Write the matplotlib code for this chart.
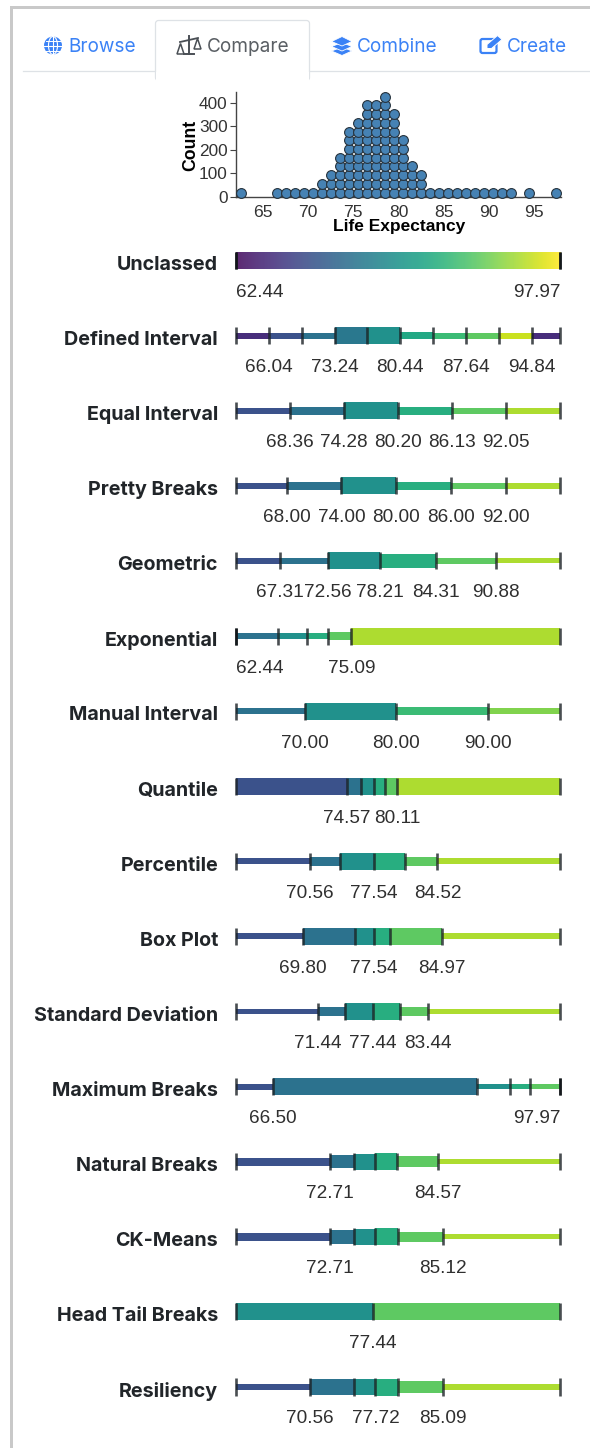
import numpy as np
import matplotlib
matplotlib.use("Agg")
import matplotlib.pyplot as plt
from matplotlib.patches import Circle, FancyBboxPatch, Polygon, Rectangle, Arc
from matplotlib import colormaps

# ---------- data ----------
dot_bins = [62.5, 66.5, 67.5, 68.5, 69.5, 70.5, 71.5, 72.5, 73.5, 74.5, 75.5, 76.5, 77.5, 78.5,
            79.5, 80.5, 81.5, 82.5, 83.5, 84.5, 85.5, 86.5, 87.5, 88.5, 89.5, 90.5, 91.5, 92.5, 94.5, 97.5]
dot_stacks = [1, 1, 1, 1, 1, 1, 2, 3, 5, 8, 9, 11, 11, 12, 10, 7, 4, 3, 1, 1, 1, 1, 1, 1, 1, 1, 1, 1, 1, 1]
count_per_dot = 37
x_ticks = [65, 70, 75, 80, 85, 90, 95]
y_ticks = [0, 100, 200, 300, 400]

vmin, vmax = 62.44, 97.97
names = ["Unclassed", "Defined Interval", "Equal Interval", "Pretty Breaks", "Geometric", "Exponential",
         "Manual Interval", "Quantile", "Percentile", "Box Plot", "Standard Deviation", "Maximum Breaks",
         "Natural Breaks", "CK-Means", "Head Tail Breaks", "Resiliency"]
breaks = [
    [],
    [66.04, 69.64, 73.24, 76.84, 80.44, 84.04, 87.64, 91.24, 94.84],
    [68.36, 74.28, 80.20, 86.13, 92.05],
    [68.00, 74.00, 80.00, 86.00, 92.00],
    [67.31, 72.56, 78.21, 84.31, 90.88],
    [67.06, 70.27, 72.58, 75.09],
    [70.00, 80.00, 90.00],
    [74.57, 76.17, 77.53, 78.72, 80.11],
    [70.56, 73.82, 77.54, 81.00, 84.52],
    [69.80, 75.47, 77.54, 79.30, 84.97],
    [71.44, 74.44, 77.44, 80.44, 83.44],
    [66.50, 88.86, 92.45, 94.60],
    [72.71, 75.42, 77.69, 80.12, 84.57],
    [72.71, 75.42, 77.69, 80.20, 85.12],
    [77.44],
    [70.56, 75.42, 77.72, 80.20, 85.09],
]
weights = [
    [],
    [.35, .35, .35, 1, 1, .4, .35, .35, .35, .35],
    [.35, .45, 1, .45, .35, .35],
    [.35, .45, 1, .45, .35, .35],
    [.35, .4, 1, .85, .35, .3],
    [.35, .35, .4, .5, 1],
    [.35, 1, .5, .35],
    [1, 1, 1, 1, 1, 1],
    [.35, .5, 1, 1, .5, .35],
    [.35, 1, 1, 1, 1, .35],
    [.35, .5, 1, 1, .5, .35],
    [.35, 1, .3, .3, .3],
    [.45, .75, .95, 1, .65, .3],
    [.45, .8, .95, 1, .6, .3],
    [1, 1],
    [.35, .95, .95, 1, .7, .3],
]
six = [.25, .375, .5, .625, .75, .875]
shades = [
    [],
    [.125, .25, .375, .4, .5, .6, .68, .75, .92, .125],
    six, six, six,
    six[1:],
    [.375, .5, .68, .81],
    six, six, six, six,
    six[:5],
    six, six,
    [.5, .75],
    six,
]
labels = [
    [62.44, 97.97],
    [66.04, 73.24, 80.44, 87.64, 94.84],
    [68.36, 74.28, 80.20, 86.13, 92.05],
    [68.00, 74.00, 80.00, 86.00, 92.00],
    [67.31, 72.56, 78.21, 84.31, 90.88],
    [62.44, 75.09],
    [70.00, 80.00, 90.00],
    [74.57, 80.11],
    [70.56, 77.54, 84.52],
    [69.80, 77.54, 84.97],
    [71.44, 77.44, 83.44],
    [66.50, 97.97],
    [72.71, 84.57],
    [72.71, 85.12],
    [77.44],
    [70.56, 77.72, 85.09],
]
# rows whose end break falls on the range limit twice, so its tick looks darker
doubled_ends = {0: [vmin, vmax], 5: [vmin], 11: [vmax]}

W, H = 590, 1448
SANS = ["Liberation Sans", "DejaVu Sans"]
UI = ["Inter", "Noto Sans", "DejaVu Sans"]
fig = plt.figure(figsize=(W / 100, H / 100), dpi=100, facecolor="white")

def px_axes(l, t, r, b, **kw):
    return fig.add_axes([l / W, 1 - b / H, (r - l) / W, (b - t) / H], **kw)

# ---------- page chrome ----------
bg = px_axes(0, 0, W, H)
bg.set_xlim(0, W); bg.set_ylim(H, 0); bg.axis("off")
GR = "#c9c9c9"
bg.add_patch(Rectangle((10, 5.5), W, 3, color=GR, lw=0))
bg.add_patch(Rectangle((10, 5.5), 3, H, color=GR, lw=0))
LINE = "#dee2e6"
bg.plot([22.5, W], [71.3, 71.3], color=LINE, lw=0.9)
bg.add_patch(FancyBboxPatch((155.5, 20.5), 154, 60, boxstyle="round,pad=0,rounding_size=3",
                            fc="white", ec=LINE, lw=0.9, zorder=2))
bg.add_patch(Rectangle((156.1, 71.6), 152.8, 12, fc="white", ec="none", zorder=3))
BLUE, GREY = "#3b82f6", "#5a5f64"
for s, x, c in [("Browse", 68, BLUE), ("Compare", 207, GREY), ("Combine", 357, BLUE), ("Create", 507, BLUE)]:
    bg.text(x, 47, s, family=UI, fontsize=13.7, color=c, va="center", ha="left", zorder=4)

# globe icon
bg.add_patch(Circle((53, 45.5), 9, fc=BLUE, ec="none", zorder=4))
bg.plot([44, 62], [45.5, 45.5], color="white", lw=0.8, zorder=5)
bg.plot([53, 53], [36.5, 54.5], color="white", lw=0.8, zorder=5)
bg.add_patch(Arc((53, 45.5), 9, 18, color="white", lw=0.8, zorder=5))
bg.plot([45.5, 60.5], [40.5, 40.5], color="white", lw=0.7, zorder=5)
bg.plot([45.5, 60.5], [50.5, 50.5], color="white", lw=0.7, zorder=5)
# scales icon
D = "#4a4f55"
bg.plot([189, 189], [36, 53.5], color=D, lw=1.4, zorder=5)
bg.plot([184, 194], [54, 54], color=D, lw=1.4, zorder=5)
bg.plot([180, 198], [42, 38], color=D, lw=1.3, zorder=5)
bg.add_patch(Polygon([[177, 54], [184, 54], [180.5, 43.5]], fc="none", ec=D, lw=1.1, zorder=5))
bg.add_patch(Polygon([[194, 49], [201, 49], [197.5, 38.5]], fc="none", ec=D, lw=1.1, zorder=5))
# layers icon
for yy in (51, 46.5):
    bg.add_patch(Polygon([[331.5, yy], [342, yy - 4], [352, yy], [342, yy + 4.5]], fc=BLUE, ec="white", lw=0.6, zorder=5))
bg.add_patch(Polygon([[331.5, 41.5], [342, 36.5], [352, 41.5], [342, 46]], fc=BLUE, ec="white", lw=0.6, zorder=5))
# edit icon
bg.add_patch(FancyBboxPatch((480.5, 39), 16, 14, boxstyle="round,pad=0,rounding_size=2", fc="none", ec=BLUE, lw=1.6, zorder=5))
bg.add_patch(Polygon([[487, 48.5], [487, 44.5], [497.5, 35.5], [502, 39.5], [491.5, 48.5]], fc=BLUE, ec="white", lw=0.7, zorder=6))

# ---------- dot plot ----------
ax = px_axes(236, 92.3, 561, 197, facecolor="none")
ax.set_xlim(62, 98); ax.set_ylim(0, 444)
xs, ys = [], []
for b, n in zip(dot_bins, dot_stacks):
    for k in range(n):
        xs.append(b); ys.append((k + .5) * count_per_dot)
ax.scatter(xs, ys, s=50, facecolor="#4682b4", edgecolor="#27333d", linewidth=0.8, clip_on=False, zorder=3)
for s in ("top", "right"):
    ax.spines[s].set_visible(False)
for s in ("left", "bottom"):
    ax.spines[s].set_color("#444444"); ax.spines[s].set_linewidth(1)
ax.set_xticks(x_ticks); ax.set_yticks(y_ticks)
ax.tick_params(axis="x", length=0, pad=6, labelsize=12.6, labelcolor="#333333")
ax.tick_params(axis="y", length=4, width=0.8, color="#444444", pad=2, labelsize=12.4, labelcolor="#333333")
for t in ax.get_xticklabels() + ax.get_yticklabels():
    t.set_family(SANS)
bg.text(399, 226.5, "Life Expectancy", family=SANS, weight="bold", fontsize=12.5, color="black", ha="center", va="center")
bg.text(190.5, 145, "Count", family=SANS, weight="bold", fontsize=12.7, color="black", rotation=90, ha="center", va="center")

# ---------- classification rows ----------
ROW0, STEP, FULL = 260.5, 75.1, 17.0
TOP = 232
rows = px_axes(235.9, TOP, 560.3, H, facecolor="none")
rows.set_xlim(vmin, vmax)
rows.set_ylim((H - ROW0) / STEP, (TOP - ROW0) / STEP)
rows.axis("off")
cmap = colormaps["viridis"]
bar_h = FULL / STEP
for i, name in enumerate(names):
    bg.text(218, ROW0 + STEP * i + 4.4, name, family=UI, weight="bold", fontsize=14.2, color="#212529", ha="right", va="center")
    edges = [vmin] + breaks[i] + [vmax]
    if not breaks[i]:
        ramp = np.linspace(0.03, 1, 256).reshape(1, -1)
        rows.imshow(ramp, cmap="viridis", vmin=0, vmax=1, aspect="auto", alpha=.88,
                    extent=(vmin, vmax, i + bar_h / 2, i - bar_h / 2), zorder=2)
    else:
        for a, b, w, c in zip(edges[:-1], edges[1:], weights[i], shades[i]):
            h = bar_h * w
            rows.barh(i, b - a, left=a, height=h, color=cmap(c), lw=0, zorder=2)
    rows.vlines(edges, i - bar_h / 2, i + bar_h / 2, color="#1c2226", alpha=.8, lw=1.9, zorder=3, clip_on=False)
    if i in doubled_ends:
        rows.vlines(doubled_ends[i], i - bar_h / 2, i + bar_h / 2, color="#101418", alpha=.9, lw=1.9, zorder=3, clip_on=False)
    for v in labels[i]:
        if v - 2.5 < vmin:
            ha, xv = "left", vmin
        elif v + 2.5 > vmax:
            ha, xv = "right", vmax
        else:
            ha, xv = "center", v
        rows.text(xv, i + 32 / STEP, f"{v:.2f}", family=SANS, fontsize=13.7, color="#2f2f2f", ha=ha, va="center", zorder=4)
rows.set_xlim(vmin, vmax)
rows.set_ylim((H - ROW0) / STEP, (TOP - ROW0) / STEP)

fig.savefig("out.png", dpi=100, facecolor="white")
